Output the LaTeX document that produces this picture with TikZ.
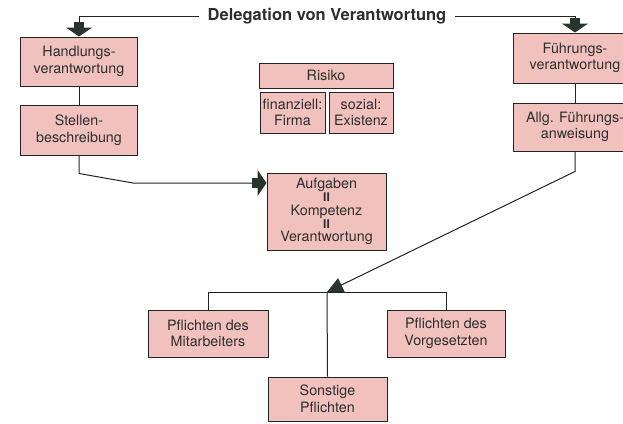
\documentclass[tikz,border=0pt]{standalone}
\usepackage{fontspec}
\setmainfont{TeX Gyre Heros}
\usetikzlibrary{arrows.meta}

\definecolor{boxpink}{RGB}{241,194,189}
\definecolor{arrowdark}{RGB}{40,52,44}
\definecolor{linedark}{RGB}{35,35,35}
\definecolor{textdark}{RGB}{45,45,45}

\tikzset{
  box/.style={draw=linedark, fill=boxpink, line width=1pt, align=center,
    inner sep=0pt, text=textdark, font=\fontsize{14.3}{16.5}\selectfont},
  conn/.style={draw=linedark, line width=1pt},
  bigarrow/.style={conn, -{Rectangle[width=10pt,length=6pt,color=arrowdark]
    Triangle[width=26pt,length=9pt,color=arrowdark]}},
  smallarrow/.style={conn, -{Triangle[width=15pt,length=16pt,color=arrowdark]}},
}

\begin{document}
\begin{tikzpicture}[x=1pt, y=-1pt]
  \useasboundingbox (0,0) rectangle (623,423);

  \node[font=\fontsize{16.5}{18}\selectfont\bfseries, text=textdark, inner sep=9pt]
    (title) at (327,16) {Delegation von Verantwortung};

  % left column
  \node[box, minimum width=117pt, minimum height=49pt] (hv) at (79,61.5) {Handlungs-\\verantwortung};
  \node[box, minimum width=117pt, minimum height=50pt] (sb) at (79,130) {Stellen-\\beschreibung};

  % right column
  \node[box, minimum width=124pt, minimum height=50pt] (fv) at (575,58) {Führungs-\\verantwortung};
  \node[box, minimum width=124pt, minimum height=48pt] (ag) at (575,127) {Allg. Führungs-\\anweisung};

  % risk
  \node[box, minimum width=134pt, minimum height=25pt] (risiko) at (326,75.5) {Risiko};
  \node[box, minimum width=65pt, minimum height=41pt] (fin) at (292.5,112.5) {finanziell:\\Firma};
  \node[box, minimum width=64pt, minimum height=41pt] (soz) at (361,112.5) {sozial:\\Existenz};

  \node[box, minimum width=119pt, minimum height=77pt, font=\fontsize{14.3}{13.3}\selectfont]
    (akv) at (326.5,211.5)
    {Aufgaben\\{\fontsize{12}{10}\selectfont\bfseries II}\\Kompetenz\\{\fontsize{12}{10}\selectfont\bfseries II}\\Verantwortung};

  % duties
  \node[box, minimum width=120pt, minimum height=47pt] (pm) at (208,333.5) {Pflichten des\\Mitarbeiters};
  \node[box, minimum width=119pt, minimum height=44pt] (sp) at (327.5,399) {Sonstige\\Pflichten};
  \node[box, minimum width=118pt, minimum height=47pt] (pv) at (446,333.5) {Pflichten des\\Vorgesetzten};

  \coordinate (knick) at (133,183);
  \coordinate (j) at (327,292);

  \draw[bigarrow] (title.west) -| (hv.north);
  \draw[bigarrow] (title.east) -| (fv.north);
  \draw[conn] (hv) -- (sb);
  \draw[conn] (fv) -- (ag);
  \draw[bigarrow] (sb.south) -- ++(0,18) -- (knick) -- (knick -| akv.west);
  \draw[smallarrow] (ag.south) -- ++(0,20) -- (j);

  \draw[conn] (pm.north) -- (pm.north |- j) -- (pv.north |- j) -- (pv.north);
  \draw[conn] (j) -- (sp.north);
\end{tikzpicture}
\end{document}
